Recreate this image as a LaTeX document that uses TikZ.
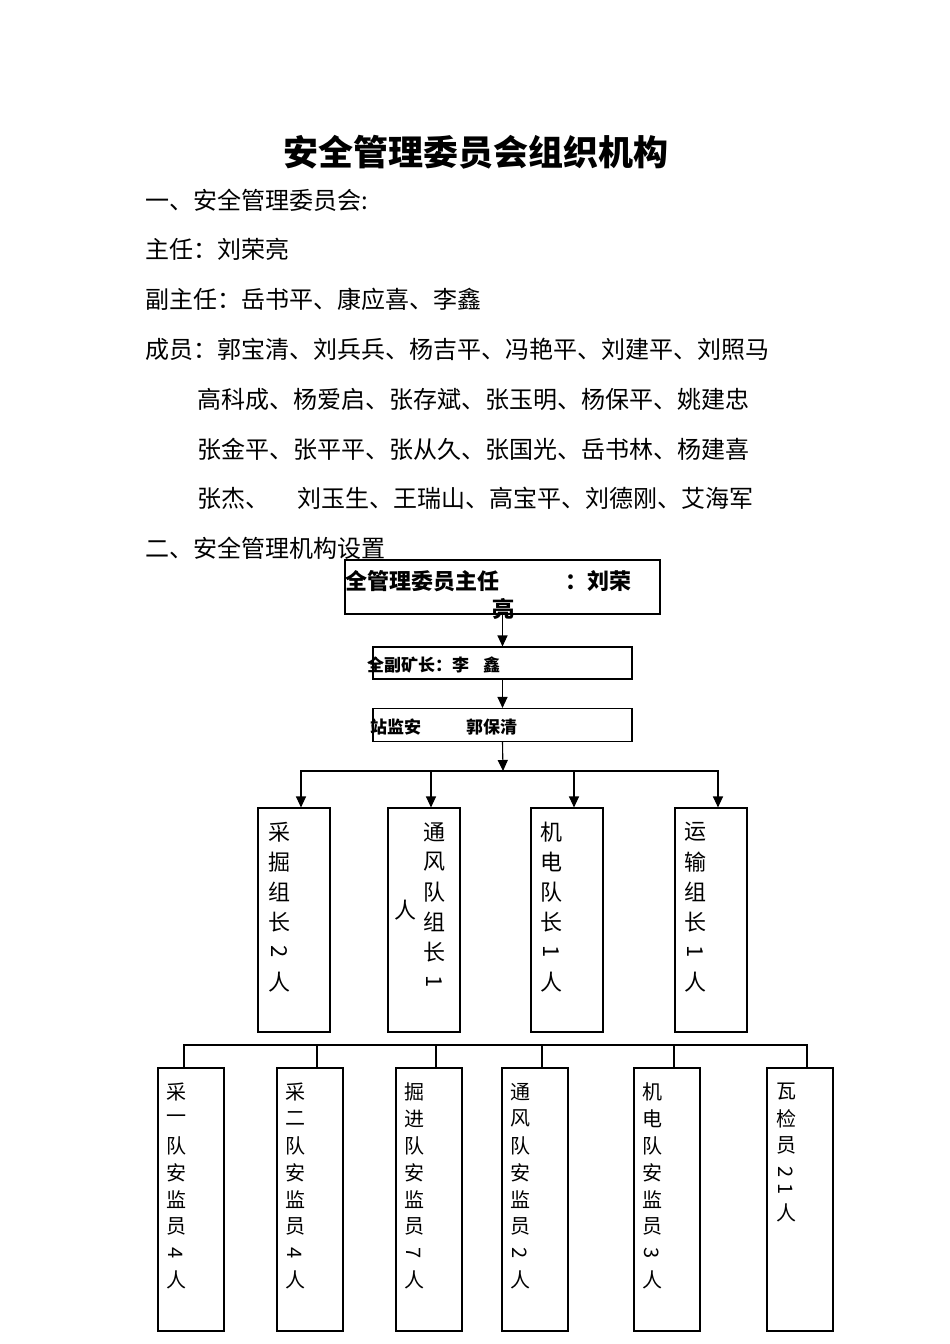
\documentclass[tikz,border=0pt]{standalone}
\usepackage{fontspec}
\usepackage{graphicx}
\setmainfont{Noto Sans CJK SC}
\usetikzlibrary{positioning,arrows.meta}

% half-width digits lie on their side in the vertical columns
\newcommand{\rdig}[1]{\rotatebox{-90}{#1}}

\tikzset{
  line/.style={line width=1.1pt},
  arr/.style={line width=1.1pt, -{Triangle[length=11pt,width=10pt]}},
  headbox/.style={draw, line width=1.1pt, inner sep=0pt},
  midbox/.style={draw, line width=1.1pt, minimum width=72pt, minimum height=224pt, inner sep=0pt},
  lowbox/.style={draw, line width=1.1pt, minimum width=66pt, minimum height=263pt, inner sep=0pt},
  txt/.style={anchor=west, inner sep=0pt, font=\fontsize{24}{24}\selectfont},
  boxtxt/.style={anchor=west, inner sep=0pt, font=\bfseries\fontsize{#1}{#1}\selectfont},
  chr/.style={inner sep=0pt, font=\fontsize{#1}{#1}\selectfont}
}

\begin{document}
\begin{tikzpicture}[x=1pt, y=-1pt]
\fill[white] (0,0) rectangle (950,1344);
\useasboundingbox (0,0) rectangle (950,1344);

% heading and list of members
\node[inner sep=0pt, font=\bfseries\fontsize{35}{35}\selectfont] (title) at (476,152) {安全管理委员会组织机构};
\node[txt] (l1) at (145,200) {一、安全管理委员会:};
\node[txt] (l2) at (145,249) {主任：刘荣亮};
\node[txt] (l3) at (145,299) {副主任：岳书平、康应喜、李鑫};
\node[txt] (l4) at (145,349) {成员：郭宝清、刘兵兵、杨吉平、冯艳平、刘建平、刘照马};
\node[txt] (l5) at (197,399) {高科成、杨爱启、张存斌、张玉明、杨保平、姚建忠};
\node[txt] (l6) at (197,449) {张金平、张平平、张从久、张国光、岳书林、杨建喜};
\node[txt] (l7) at (197,498) {张杰、\hspace{28pt}刘玉生、王瑞山、高宝平、刘德刚、艾海军};
\node[txt] (l8) at (145,548) {二、安全管理机构设置};

% chain of command
\node[headbox, minimum width=315pt, minimum height=54pt] (zr) at (502.5,587) {};
\node[headbox, minimum width=259pt, minimum height=32pt] (fkz) at (502.5,663) {};
\node[headbox, minimum width=259pt, minimum height=33pt] (jz) at (502.5,725) {};
\node[boxtxt=22] (zrA) at (345,581) {全管理委员主任};
\node[boxtxt=22] (zrB) at (565,581) {：刘荣};
\node[inner sep=0pt, font=\bfseries\fontsize{22}{22}\selectfont] (zrC) at (503,609) {亮};
\node[boxtxt=17] (fkzT) at (367,665) {全副矿长：李\hspace{14pt}鑫};
\node[boxtxt=17] (jzT) at (370,727) {站监安\hspace{45pt}郭保清};

\draw[arr] (zr.south) -- (fkz.north);
\draw[arr] (fkz.south) -- (jz.north);
\coordinate (hub) at (503,771);
\draw[arr] (jz.south) -- (hub);

% team leaders
\node[midbox] (cjz) at (294,920) {};
\node[midbox] (tfd) at (424,920) {};
\node[midbox] (jdd) at (567,920) {};
\node[midbox] (ysz) at (711,920) {};
\foreach \b in {cjz,tfd,jdd,ysz}
  \draw[arr] (hub) -| ([xshift=7pt]\b.north);

\foreach \b/\x/\l in {cjz/279/{采,掘,组,长,\rdig{2},人},
                      tfd/434/{通,风,队,组,长,\rdig{1}},
                      jdd/551/{机,电,队,长,\rdig{1},人},
                      ysz/695/{运,输,组,长,\rdig{1},人}}
  \foreach \c [count=\i] in \l
    \node[chr=22] (\b-\i) at (\x,802+30*\i) {\c};
\node[chr=22] (tfd-r) at (405,910) {人};

% safety inspectors
\node[lowbox] (cy1) at (191,1199.5) {};
\node[lowbox] (cy2) at (310,1199.5) {};
\node[lowbox] (jjd) at (429,1199.5) {};
\node[lowbox] (tfa) at (535,1199.5) {};
\node[lowbox] (jda) at (667,1199.5) {};
\node[lowbox] (wjy) at (800,1199.5) {};
\coordinate (busL) at (184,1045);
\coordinate (busR) at (807,1045);
\draw[line] ([xshift=-7pt]cy1.north) -- (busL) -- (busR) -- ([xshift=7pt]wjy.north);
\foreach \b/\dx in {cy2/7,jjd/7,tfa/7,jda/7}
  \draw[line] ([xshift=\dx pt]\b.north) -- ++(0,-23);

\foreach \b/\x/\l in {cy1/176/{采,一,队,安,监,员,\rdig{4},人},
                      cy2/295/{采,二,队,安,监,员,\rdig{4},人},
                      jjd/414/{掘,进,队,安,监,员,\rdig{7},人},
                      tfa/520/{通,风,队,安,监,员,\rdig{2},人},
                      jda/652/{机,电,队,安,监,员,\rdig{3},人},
                      wjy/786/{瓦,检,员}}
  \foreach \c [count=\i] in \l
    \node[chr=20] (\b-\i) at (\x,1065.2+26.8*\i) {\c};
\node[chr=20] (wjy-4) at (786,1172) {\rdig{2}};
\node[chr=20] (wjy-5) at (786,1189) {\rdig{1}};
\node[chr=20] (wjy-6) at (786,1213) {人};
\end{tikzpicture}
\end{document}
